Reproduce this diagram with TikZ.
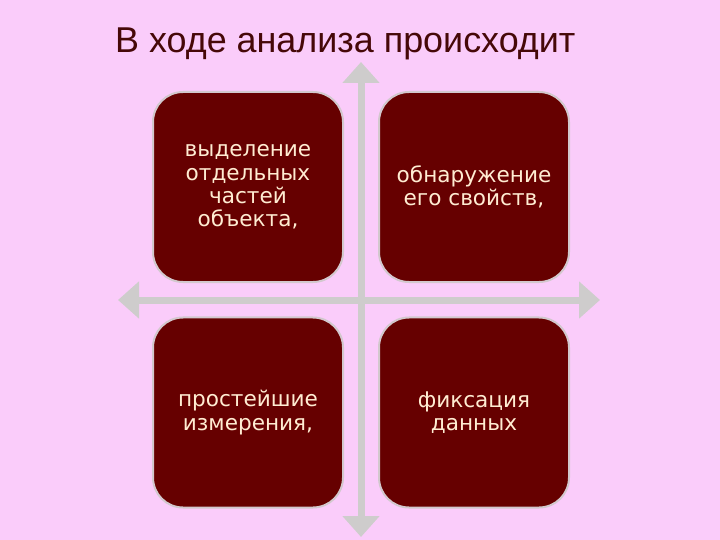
\documentclass[tikz,border=0pt]{standalone}
\usepackage{fontspec}
\setmainfont{Liberation Sans}
\newfontfamily\boxfont{DejaVu Sans}
\usetikzlibrary{arrows.meta}
\definecolor{bgpink}{RGB}{250,204,250}
\definecolor{boxred}{RGB}{102,0,0}
\definecolor{boxtext}{RGB}{255,236,210}
\definecolor{arrowgray}{RGB}{206,204,204}
\definecolor{titlecol}{RGB}{70,8,8}
\definecolor{edgecol}{RGB}{210,200,205}
\tikzset{
  quadbox/.style={draw=edgecol, line width=2bp, fill=boxred, rounded corners=30bp,
    minimum width=190bp, minimum height=190bp, inner sep=0pt, text=boxtext,
    align=center, font=\boxfont\fontsize{21.6bp}{23.4bp}\selectfont},
  crossarrow/.style={draw=arrowgray, line width=7bp,
    {Triangle[width=36bp,length=21bp]}-{Triangle[width=36bp,length=21bp]}}
}
\begin{document}
\begin{tikzpicture}[x=1bp,y=-1bp]
\fill[bgpink] (0,0) rectangle (720,540);
\useasboundingbox (0,0) rectangle (720,540);
\node[anchor=base west, inner sep=0pt, text=titlecol, font=\fontsize{35.9bp}{40bp}\selectfont] (title) at (115,53) {В ходе анализа происходит};
\coordinate (vtop) at (361,62);
\coordinate (vbot) at (361,537);
\coordinate (hleft) at (118,300);
\coordinate (hright) at (600,300);
\draw[crossarrow] (vtop) -- (vbot);
\draw[crossarrow] (hleft) -- (hright);
\node[quadbox] (tl) at (248,187) {выделение\\отдельных\\частей\\объекта,};
\node[quadbox] (tr) at (474,187) {обнаружение\\его свойств,};
\node[quadbox] (bl) at (248,412.5) {простейшие\\измерения,};
\node[quadbox] (br) at (474,412.5) {фиксация\\данных};
\end{tikzpicture}
\end{document}
